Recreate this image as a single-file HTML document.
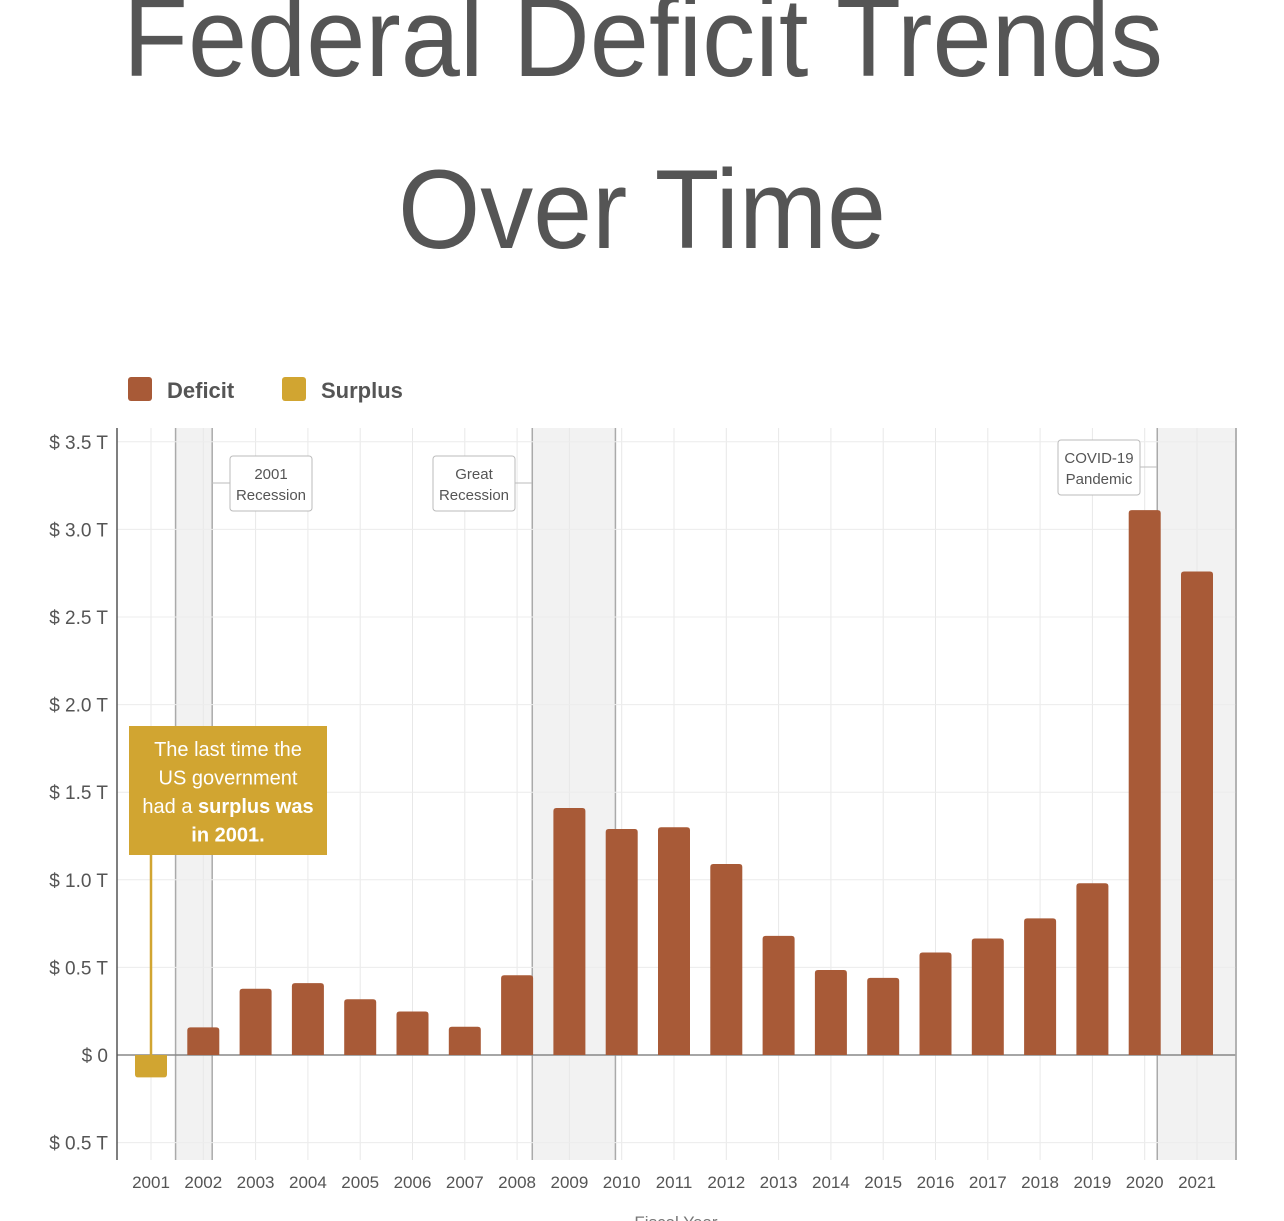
<!DOCTYPE html>
<html><head><meta charset="utf-8"><style>
html,body{margin:0;padding:0;background:#fff;width:1284px;height:1221px;overflow:hidden;font-family:"Liberation Sans","DejaVu Sans",sans-serif}
</style></head><body>
<svg id="chart" width="1284" height="1221" xmlns="http://www.w3.org/2000/svg">
<text x="123" y="76" textLength="1040" lengthAdjust="spacingAndGlyphs" font-size="112" fill="#555">Federal Deficit Trends</text>
<text x="398" y="248" textLength="488" lengthAdjust="spacingAndGlyphs" font-size="112" fill="#555">Over Time</text>
<g>
<rect x="128" y="377" width="24" height="24" rx="3" fill="#a85a37"/>
<text x="167" y="398" font-size="22" font-weight="bold" fill="#555">Deficit</text>
<rect x="282" y="377" width="24" height="24" rx="3" fill="#d1a531"/>
<text x="321" y="398" font-size="22" font-weight="bold" fill="#555">Surplus</text>
</g>
<g id="plot"></g>
</svg>
<script>
const years=[2001,2002,2003,2004,2005,2006,2007,2008,2009,2010,2011,2012,2013,2014,2015,2016,2017,2018,2019,2020,2021];
const values=[-0.128,0.158,0.378,0.41,0.318,0.248,0.161,0.455,1.41,1.29,1.30,1.09,0.68,0.485,0.44,0.585,0.665,0.78,0.98,3.11,2.76];
const yTicks=[-0.5,0,0.5,1.0,1.5,2.0,2.5,3.0,3.5];
const yTickLabels=["$ 0.5 T","$ 0","$ 0.5 T","$ 1.0 T","$ 1.5 T","$ 2.0 T","$ 2.5 T","$ 3.0 T","$ 3.5 T"];
const recessions=[["2001 Recession",2001.47,2002.17],["Great Recession",2008.29,2009.88],["COVID-19 Pandemic",2020.24,2021.75]];
const NS="http://www.w3.org/2000/svg";
const g=document.getElementById('plot');
const L=117,R=1236,T=428,B=1160;
const y=v=>1055-v*175.2;
const x=yr=>151+(yr-2001)*52.3;
function mk(t,a){const e=document.createElementNS(NS,t);for(const k in a)e.setAttribute(k,a[k]);g.appendChild(e);return e;}
recessions.forEach((r,i)=>{
 const x0=x(r[1]),x1=Math.min(x(r[2]),R);
 const e=mk('rect',{x:x0,y:T,width:x1-x0,height:B-T,fill:'#f2f2f2'});
 
 
 [x0,x1].forEach(xx=>{const l=mk('line',{x1:xx,x2:xx,y1:T,y2:B,stroke:'#aaa','stroke-width':1.5});
 
 });
});
years.forEach(yr=>{const l=mk('line',{x1:x(yr),x2:x(yr),y1:T,y2:B,stroke:'#e8e8e8'});

});
yTicks.forEach((v,i)=>{
 const l=mk('line',{x1:L,x2:R,y1:y(v),y2:y(v),stroke:v===0?'#888':'#ececec','stroke-width':v===0?1.5:1});
 
 
 const t=mk('text',{x:108,y:y(v)+7,'text-anchor':'end','font-size':19,fill:'#555'});t.textContent=yTickLabels[i];
 
 
});
const ax=mk('line',{x1:L,x2:L,y1:T,y2:B,stroke:'#555','stroke-width':1.5});


const ax2=mk('line',{x1:R,x2:R,y1:T,y2:B,stroke:'#aaa','stroke-width':1.5});


const cl=mk('line',{x1:x(2001),x2:x(2001),y1:855,y2:y(0),stroke:'#d1a531','stroke-width':2.5});


years.forEach((yr,i)=>{
 const v=values[i],bw=32,top=Math.min(y(v),y(0)),h=Math.abs(y(v)-y(0));
 const p=mk('path',{fill:v<0?'#d1a531':'#a85a37'});
 const X=x(yr)-bw/2,r=3;
 if(v>=0)p.setAttribute('d',`M${X},${y(0)} V${top+r} Q${X},${top} ${X+r},${top} H${X+bw-r} Q${X+bw},${top} ${X+bw},${top+r} V${y(0)} Z`);
 else p.setAttribute('d',`M${X},${y(0)} V${top+h-r} Q${X},${top+h} ${X+r},${top+h} H${X+bw-r} Q${X+bw},${top+h} ${X+bw},${top+h-r} V${y(0)} Z`);
 
 
 const t=mk('text',{x:x(yr),y:1188,'text-anchor':'middle','font-size':17,fill:'#555'});t.textContent=yr;
 
 
});
const boxes=[[230,456,82,55,212,"2001","Recession"],[433,456,82,55,532,"Great","Recession"],[1058,440,82,55,1157,"COVID-19","Pandemic"]];
boxes.forEach(b=>{
 const lx=b[4]>b[0]?b[0]+b[2]:b[0];
 const l=mk('line',{x1:b[4],x2:lx,y1:b[1]+27,y2:b[1]+27,stroke:'#bbb'});
 
 
 const r=mk('rect',{x:b[0],y:b[1],width:b[2],height:b[3],rx:3,fill:'#fff',stroke:'#bbb'});
 
 
 [b[5],b[6]].forEach((s,j)=>{const t=mk('text',{x:b[0]+b[2]/2,y:b[1]+23+j*21,'text-anchor':'middle','font-size':15,fill:'#555'});t.textContent=s;
 
 });
});
const cb=mk('rect',{x:129,y:726,width:198,height:129,fill:'#d1a531'});


const lines=[["The last time the",""],["US government",""],["had a ","surplus was"],["","in 2001."]];
lines.forEach((ln,j)=>{const t=mk('text',{x:228,y:756+j*28.5,'text-anchor':'middle','font-size':20,fill:'#fff'});
 
 
 if(ln[0]){const s=document.createElementNS(NS,'tspan');s.textContent=ln[0];t.appendChild(s);}
 if(ln[1]){const s=document.createElementNS(NS,'tspan');s.setAttribute('font-weight','bold');s.textContent=ln[1];t.appendChild(s);}
});
const xt=mk('text',{x:676,y:1228,'text-anchor':'middle','font-size':17,fill:'#777'});xt.textContent="Fiscal Year";


</script>
</body></html>
